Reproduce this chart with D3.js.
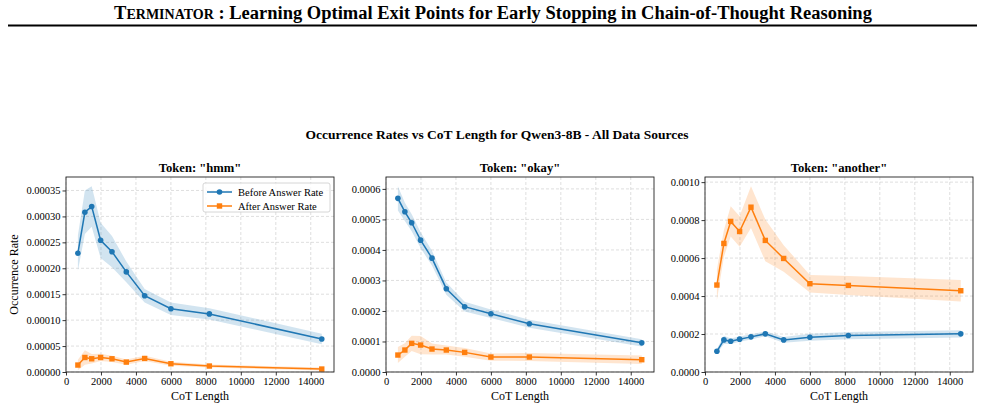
<!DOCTYPE html>
<html>
<head>
<meta charset="utf-8">
<script src="https://cdn.jsdelivr.net/npm/d3@7"></script>
<style>
  body { margin: 0; background: #fff; }
  svg { font-family: "Liberation Serif", "DejaVu Serif", serif; }
</style>
</head>
<body>
<svg id="chart" width="985" height="409"></svg>
<script>
// data
var cotLength = [680, 1080, 1470, 1980, 2630, 3450, 4500, 6000, 8200, 14630];
var tokens = ['"hmm"', '"okay"', '"another"'];

var hmmBefore    = [0.000229, 0.000308, 0.000319, 0.000254, 0.000232, 0.000193, 0.000147, 0.000122, 0.000112, 0.0000637];
var hmmBeforeErr = [0.000034, 0.000042, 0.000039, 0.000034, 0.000030, 0.000020, 0.000013, 0.000012, 0.000011, 0.000010];
var hmmAfter     = [0.0000134, 0.000028, 0.0000255, 0.000028, 0.0000255, 0.0000191, 0.0000261, 0.0000159, 0.0000115, 0.0000057];
var hmmAfterErr  = [0.000010, 0.000014, 0.000009, 0.000007, 0.000006, 0.000005, 0.000005, 0.000004, 0.000003, 0.000003];

var okayBefore    = [0.000569, 0.000525, 0.000489, 0.000432, 0.000373, 0.000273, 0.000214, 0.000191, 0.000158, 0.0000955];
var okayBeforeErr = [0.000040, 0.000030, 0.000028, 0.000026, 0.000024, 0.000020, 0.000016, 0.000014, 0.000013, 0.000012];
var okayAfter     = [0.0000556, 0.000072, 0.0000938, 0.0000883, 0.0000752, 0.000072, 0.0000643, 0.000049, 0.000049, 0.0000403];
var okayAfterErr  = [0.000026, 0.000022, 0.000025, 0.000030, 0.000018, 0.000015, 0.000014, 0.000012, 0.000013, 0.000014];

var anotherBefore    = [0.000109, 0.000169, 0.000162, 0.000173, 0.000185, 0.000201, 0.000169, 0.000183, 0.000192, 0.000201];
var anotherBeforeErr = [0.000012, 0.000022, 0.000015, 0.000014, 0.000014, 0.000013, 0.000015, 0.000018, 0.000019, 0.000019];
var anotherAfter     = [0.000458, 0.000677, 0.000793, 0.000740, 0.000868, 0.000693, 0.000598, 0.000465, 0.000456, 0.000428];
var anotherAfterErr  = [0.00008, 0.00007, 0.00008, 0.00008, 0.00011, 0.00011, 0.00007, 0.000046, 0.00005, 0.000057];

var xTicks = [0, 2000, 4000, 6000, 8000, 10000, 12000, 14000];
var yTickSets = [
  [0, 0.00005, 0.0001, 0.00015, 0.0002, 0.00025, 0.0003, 0.00035],
  [0, 0.0001, 0.0002, 0.0003, 0.0004, 0.0005, 0.0006],
  [0, 0.0002, 0.0004, 0.0006, 0.0008, 0.001]
];
var yFormats = [d3.format(".5f"), d3.format(".4f"), d3.format(".4f")];
var yMax = [0.000376, 0.000639, 0.001027];
var seriesNames = ["Before Answer Rate", "After Answer Rate"];

var panels = [
  {before: hmmBefore, beforeErr: hmmBeforeErr, after: hmmAfter, afterErr: hmmAfterErr},
  {before: okayBefore, beforeErr: okayBeforeErr, after: okayAfter, afterErr: okayAfterErr},
  {before: anotherBefore, beforeErr: anotherBeforeErr, after: anotherAfter, afterErr: anotherAfterErr}
];

var blue = "#1f77b4", orange = "#ff7f0e";
var svg = d3.select("#chart");

// paper header
var head = svg.append("text")
  .attr("x", 493).attr("y", 19)
  .attr("text-anchor", "middle")
  .style("font-weight", "bold")
  .style("font-size", "18.5px");
head.append("tspan").text("T");
head.append("tspan").style("font-size", "14px").text("ERMINATOR");
head.append("tspan").text(" : Learning Optimal Exit Points for Early Stopping in Chain-of-Thought Reasoning");
svg.append("line")
  .attr("x1", 8).attr("x2", 977).attr("y1", 25.5).attr("y2", 25.5)
  .attr("stroke", "#000").attr("stroke-width", 2);

// figure title
svg.append("text")
  .attr("x", 497).attr("y", 139)
  .attr("text-anchor", "middle")
  .style("font-weight", "bold")
  .style("font-size", "13.5px")
  .text("Occurrence Rates vs CoT Length for Qwen3-8B - All Data Sources");

var plotLeft = [66, 386, 705];
var plotW = 268, plotTop = 177, plotH = 195;

panels.forEach(function(p, i) {
  var g = svg.append("g").attr("transform", "translate(" + plotLeft[i] + "," + plotTop + ")");
  var x = d3.scaleLinear().domain([0, 15330]).range([0, plotW]);
  var y = d3.scaleLinear().domain([0, yMax[i]]).range([plotH, 0]);

  // grid
  g.append("g").selectAll("line").data(xTicks).enter().append("line")
    .attr("x1", function(d){ return x(d); }).attr("x2", function(d){ return x(d); })
    .attr("y1", 0).attr("y2", plotH)
    .attr("stroke", "#b0b0b0").attr("stroke-opacity", 0.5)
    .attr("stroke-width", 0.8).attr("stroke-dasharray", "3,2");
  g.append("g").selectAll("line").data(yTickSets[i]).enter().append("line")
    .attr("x1", 0).attr("x2", plotW)
    .attr("y1", function(d){ return y(d); }).attr("y2", function(d){ return y(d); })
    .attr("stroke", "#b0b0b0").attr("stroke-opacity", 0.5)
    .attr("stroke-width", 0.8).attr("stroke-dasharray", "3,2");

  var series = [
    {vals: p.before, err: p.beforeErr, color: blue, marker: "circle"},
    {vals: p.after, err: p.afterErr, color: orange, marker: "square"}
  ];

  series.forEach(function(s) {
    var pts = cotLength.map(function(c, k){ return {x: c, y: s.vals[k], e: s.err[k]}; });
    var area = d3.area()
      .x(function(d){ return x(d.x); })
      .y0(function(d){ return y(d.y - d.e); })
      .y1(function(d){ return y(d.y + d.e); });
    g.append("path").datum(pts).attr("d", area)
      .attr("fill", s.color).attr("fill-opacity", 0.2);
    var line = d3.line().x(function(d){ return x(d.x); }).y(function(d){ return y(d.y); });
    g.append("path").datum(pts).attr("d", line)
      .attr("fill", "none").attr("stroke", s.color).attr("stroke-width", 1.5);
    if (s.marker == "circle") {
      g.selectAll(null).data(pts).enter().append("circle")
        .attr("cx", function(d){ return x(d.x); })
        .attr("cy", function(d){ return y(d.y); })
        .attr("r", 2.8).attr("fill", s.color);
    } else {
      g.selectAll(null).data(pts).enter().append("rect")
        .attr("x", function(d){ return x(d.x) - 2.7; })
        .attr("y", function(d){ return y(d.y) - 2.7; })
        .attr("width", 5.4).attr("height", 5.4).attr("fill", s.color);
    }
  });

  // axes
  var xAxis = d3.axisBottom(x).tickValues(xTicks).tickFormat(d3.format("d")).tickSize(3.5).tickPadding(2);
  var yAxis = d3.axisLeft(y).tickValues(yTickSets[i]).tickFormat(yFormats[i]).tickSize(3.5).tickPadding(2);
  var gx = g.append("g").attr("transform", "translate(0," + plotH + ")").call(xAxis);
  var gy = g.append("g").call(yAxis);
  [gx, gy].forEach(function(a) {
    a.select(".domain").remove();
    a.selectAll("text").style("font-size", "10.5px").style("font-family", "Liberation Serif, serif").attr("fill", "#000");
    a.selectAll("line").attr("stroke", "#000").attr("stroke-width", 0.8);
  });

  g.append("rect")
    .attr("width", plotW).attr("height", plotH)
    .attr("fill", "none").attr("stroke", "#222").attr("stroke-width", 0.9);

  g.append("text")
    .attr("x", plotW / 2).attr("y", -5)
    .attr("text-anchor", "middle")
    .style("font-weight", "bold").style("font-size", "12.6px")
    .text("Token: " + tokens[i]);

  g.append("text")
    .attr("x", plotW / 2).attr("y", plotH + 28)
    .attr("text-anchor", "middle")
    .style("font-size", "12px")
    .text("CoT Length");

  if (i == 0) {
    g.append("text")
      .attr("transform", "translate(-48," + (plotH / 2) + ") rotate(-90)")
      .attr("text-anchor", "middle")
      .style("font-size", "12px")
      .text("Occurrence Rate");

    // legend
    var lg = g.append("g").attr("transform", "translate(137,6)");
    lg.append("rect")
      .attr("width", 127).attr("height", 29).attr("rx", 2)
      .attr("fill", "#fff").attr("fill-opacity", 0.8)
      .attr("stroke", "#ccc").attr("stroke-width", 0.8);
    seriesNames.forEach(function(name, k) {
      var cy = 9 + k * 14;
      var col = k == 0 ? blue : orange;
      lg.append("line").attr("x1", 4).attr("x2", 29).attr("y1", cy).attr("y2", cy)
        .attr("stroke", col).attr("stroke-width", 1.5);
      if (k == 0) {
        lg.append("circle").attr("cx", 16.5).attr("cy", cy).attr("r", 2.8).attr("fill", col);
      } else {
        lg.append("rect").attr("x", 13.8).attr("y", cy - 2.7).attr("width", 5.4).attr("height", 5.4).attr("fill", col);
      }
      lg.append("text").attr("x", 35).attr("y", cy + 3.5)
        .style("font-size", "10.5px").text(name);
    });
  }
});
</script>
</body>
</html>
